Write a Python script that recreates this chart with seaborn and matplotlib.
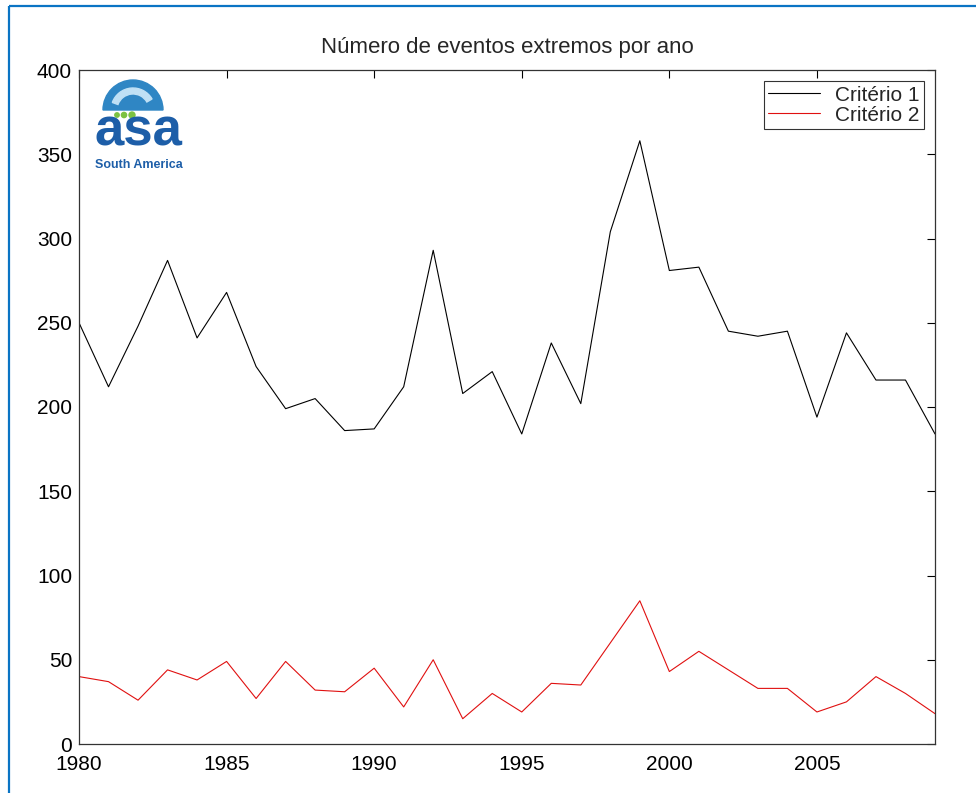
import numpy as np
import pandas as pd
import matplotlib
matplotlib.use("Agg")
import matplotlib.pyplot as plt
import seaborn as sns
from matplotlib.patches import Wedge, Circle
from matplotlib.lines import Line2D

years = list(range(1980, 2010))
criterio1 = [250, 212, 248, 287, 241, 268, 224, 199, 205, 186,
             187, 212, 293, 208, 221, 184, 238, 202, 304, 358,
             281, 283, 245, 242, 245, 194, 244, 216, 216, 184]
criterio2 = [40, 37, 26, 44, 38, 49, 27, 49, 32, 31,
             45, 22, 50, 15, 30, 19, 36, 35, 60, 85,
             43, 55, 44, 33, 33, 19, 25, 40, 30, 18]
labels = ["Critério 1", "Critério 2"]
title = "Número de eventos extremos por ano"

df = pd.DataFrame({
    "ano": years * 2,
    "valor": criterio1 + criterio2,
    "serie": [labels[0]] * len(years) + [labels[1]] * len(years),
})

sns.set_style("white")
plt.rcParams["font.family"] = ["Liberation Sans", "DejaVu Sans"]

fig = plt.figure(figsize=(9.76, 7.93), dpi=100)
ax = fig.add_axes([79 / 976, 49 / 793, 856 / 976, 674 / 793])

sns.lineplot(data=df, x="ano", y="valor", hue="serie",
             palette={labels[0]: "black", labels[1]: "#e01010"},
             linewidth=0.8, ax=ax, legend=False)

ax.set_xlim(1980, 2009)
ax.set_ylim(0, 400)
ax.set_xticks([1980, 1985, 1990, 1995, 2000, 2005])
ax.set_yticks(range(0, 401, 50))
ax.set_xlabel("")
ax.set_ylabel("")
ax.tick_params(direction="in", top=True, right=True, length=6, width=0.8,
               labelsize=15, colors="black")
ax.tick_params(axis="x", pad=8)
ax.tick_params(axis="y", pad=5)
for s in ax.spines.values():
    s.set_visible(True)
    s.set_color("#333333")
    s.set_linewidth(0.9)
ax.set_title(title, fontsize=16, pad=12)

handles = [Line2D([], [], color="black", lw=0.8),
           Line2D([], [], color="#e01010", lw=0.8)]
leg = ax.legend(handles, labels, loc="upper right", fontsize=15,
                frameon=True, fancybox=False, edgecolor="black",
                borderpad=0.2, handlelength=2.5, labelspacing=0.05,
                borderaxespad=0.55, handletextpad=0.7)
leg.get_frame().set_linewidth(0.8)

# logo (decoration)
wax = fig.add_axes([0, 0, 1, 1], facecolor="none")
wax.set_xlim(0, 976)
wax.set_ylim(793, 0)
wax.axis("off")
wax.add_patch(Wedge((133, 110), 30, 180, 360, color="#2f86c4"))
wax.add_patch(Wedge((133, 110), 22, 200, 330, width=6, color="#bfe0f5"))
for cx, r in [(117, 2.2), (124, 2.6), (132, 3.0)]:
    wax.add_patch(Circle((cx, 115), r, color="#7cc242"))
wax.text(138, 146, "asa", color="#1d5ea8", fontsize=38, fontweight="bold",
         ha="center", va="baseline", family="Liberation Sans")
wax.text(139, 165, "South America", color="#1d5ea8", fontsize=9,
         fontweight="bold", ha="center", va="center", family="Liberation Sans")

# blue frame
wax.plot([9, 9], [793, 6], color="#0a74c4", lw=1.6, solid_capstyle="butt")
wax.plot([9, 976], [6, 6], color="#0a74c4", lw=1.6, solid_capstyle="butt")

fig.savefig("out.png", dpi=100)
